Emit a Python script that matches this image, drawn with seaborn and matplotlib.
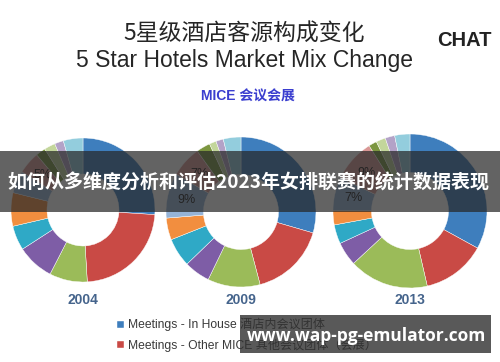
import matplotlib
matplotlib.use("Agg")
import matplotlib.pyplot as plt
import seaborn as sns
import numpy as np
from matplotlib.patches import Rectangle

sns.set_theme(style="white")
plt.rcParams['font.family'] = ['Liberation Sans', 'Noto Sans CJK SC', 'DejaVu Sans']

# ---------------- data ----------------
years = ["2004", "2009", "2013"]
segments = ["Meetings - In House 酒店内会议团体",
            "Meetings - Other MICE 其他会议团体（会展）",
            "Seg 3", "Seg 4", "Seg 5", "Seg 6", "Seg 7", "Seg 8",
            "Seg 9", "Seg 10", "Seg 11", "Seg 12"]
share_2004 = [26.0, 23.0, 8.5, 8.3, 5.5, 7.5, 5.0, 5.0, 2.2, 2.5, 2.0, 4.4]
share_2009 = [29.5, 16.4, 11.3, 5.6, 6.2, 4.7, 9.7, 6.7, 3.0, 1.5, 1.6, 3.8]
share_2013 = [33.0, 13.4, 16.7, 5.0, 4.0, 3.0, 7.0, 9.0, 1.7, 2.0, 2.0, 3.2]
pct_2004 = ["", "", "", "", "", "", "", "5%", "", "", "", ""]
pct_2009 = ["", "", "", "", "", "", "9%", "7%", "", "", "", ""]
pct_2013 = ["", "", "", "", "", "", "7%", "9%", "", "", "", ""]
shares = [share_2004, share_2009, share_2013]
pcts = [pct_2004, pct_2009, pct_2013]

title_cn = "5星级酒店客源构成变化"
title_en = "5 Star Hotels Market Mix Change"
subtitle = "MICE 会议会展"
banner_text = "如何从多维度分析和评估2023年女排联赛的统计数据表现"
watermark = "www.wap-pg-emulator.com"
legend_labels = segments[:2]

# ---------------- style ----------------
palette = ["#3E7EBD", "#C94A45", "#9BBB59", "#7E5DA6", "#2FA9C6", "#F28E3F",
           "#95B3D7", "#D99694", "#7C9640", "#C3D69B", "#B3A2C7", "#93CDDD"]

W, H = 500, 362
fig = plt.figure(figsize=(W / 100, H / 100), dpi=100)
fig.patch.set_facecolor("white")

centers = [(83, 210), (241, 212), (410, 211)]
radii = [72, 75, 77]
pad = 1.04

first_wedges = None
for vals, lbls, (cx, cy), r in zip(shares, pcts, centers, radii):
    half = r * pad
    ax = fig.add_axes([(cx - half) / W, 1 - (cy + half) / H, 2 * half / W, 2 * half / H])
    wedges, _ = ax.pie(vals, colors=palette, startangle=90, counterclock=False,
                       radius=1.0,
                       wedgeprops=dict(width=0.5, edgecolor="white", linewidth=0.3))
    if first_wedges is None:
        first_wedges = wedges
    total = sum(vals)
    cum = np.cumsum([0] + list(vals))
    for i, t in enumerate(lbls):
        if t:
            mid = (cum[i] + cum[i + 1]) / 2 / total * 2 * np.pi
            ax.text(0.75 * np.sin(mid), 0.75 * np.cos(mid), t, ha="center",
                    va="center", fontsize=9, color="#1a1a1a")
    ax.set_xlim(-pad, pad)
    ax.set_ylim(-pad, pad)
    ax.set_aspect("auto")
    ax.axis("off")

# ---------------- overlay ----------------
ov = fig.add_axes([0, 0, 1, 1], zorder=10)
ov.set_xlim(0, W)
ov.set_ylim(H, 0)
ov.axis("off")
ov.patch.set_alpha(0)

ov.text(244, 34, title_cn, ha="center", va="center", fontsize=16.5,
        color="#262626", family=["Noto Sans CJK SC"])
ov.text(245, 61, title_en, ha="center", va="center", fontsize=16.5,
        color="#262626")
ov.text(248, 97, subtitle, ha="center", va="center", fontsize=10,
        color="#3A3ECF", fontweight="bold",
        family=["Liberation Sans", "Noto Sans CJK SC"])
ov.text(464, 41, "CHAT", ha="center", va="center", fontsize=14.5,
        color="#222222", fontweight="bold")

for yr, (cx, cy) in zip(years, centers):
    ov.text(cx, 300, yr, ha="center", va="center", fontsize=10,
            color="#45648C", fontweight="bold")

leg = ov.legend(first_wedges[:2], legend_labels, loc="upper left",
                bbox_to_anchor=(117, 318), bbox_transform=ov.transData,
                frameon=False, fontsize=8.7, handlelength=0.55,
                handleheight=0.55, handletextpad=0.35, labelspacing=0.6,
                borderpad=0, borderaxespad=0)
for t in leg.get_texts():
    t.set_color("#3a3a3a")

# banner
ov.add_patch(Rectangle((0, 151), W, 61, facecolor="#272727", alpha=0.72,
                       edgecolor="none", zorder=7))
ov.text(248, 183, banner_text, ha="center", va="center", fontsize=13.7,
        color="white", fontweight="bold", family=["Noto Sans CJK SC"], zorder=8)

# watermark
ov.add_patch(Rectangle((240, 315), 251, 38, facecolor="#303030", alpha=0.8,
                       edgecolor="none", zorder=7))
ov.text(366, 336, watermark, ha="center", va="center", fontsize=12.5,
        color="white", fontweight="bold", family=["Open Sans", "DejaVu Sans"],
        zorder=8)

fig.savefig("out.png", dpi=100)
